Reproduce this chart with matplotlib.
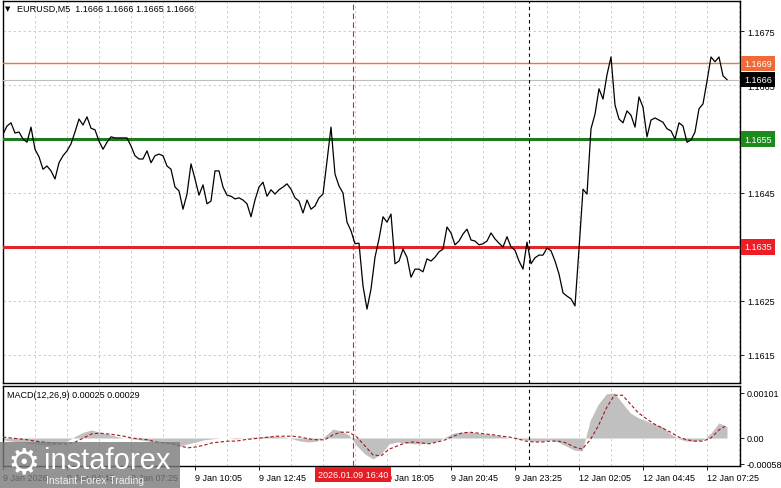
import matplotlib
matplotlib.use('Agg')
import matplotlib.pyplot as plt
from matplotlib.patches import Rectangle
import numpy as np

plt.rcParams['font.family'] = ['Liberation Sans', 'DejaVu Sans']

# --- data (EURUSD M5, close every 2 bars) ---
close = [
    1.16559, 1.16574, 1.16580, 1.16561, 1.16563, 1.16550, 1.16544, 1.16572, 1.16531, 1.16517,
    1.16494, 1.16500, 1.16491, 1.16476, 1.16506, 1.16519, 1.16528, 1.16541, 1.16563, 1.16587,
    1.16576, 1.16591, 1.16570, 1.16567, 1.16546, 1.16531, 1.16544, 1.16554, 1.16552, 1.16552,
    1.16552, 1.16552, 1.16537, 1.16519, 1.16513, 1.16513, 1.16528, 1.16506, 1.16519, 1.16522,
    1.16519, 1.16500, 1.16494, 1.16461, 1.16454, 1.16420, 1.16448, 1.16504, 1.16476, 1.16446,
    1.16465, 1.16430, 1.16435, 1.16491, 1.16491, 1.16461, 1.16446, 1.16444, 1.16439, 1.16441,
    1.16437, 1.16430, 1.16406, 1.16437, 1.16461, 1.16470, 1.16444, 1.16456, 1.16448, 1.16456,
    1.16461, 1.16467, 1.16457, 1.16441, 1.16435, 1.16413, 1.16437, 1.16420, 1.16426, 1.16441,
    1.16448, 1.16509, 1.16572, 1.16485, 1.16463, 1.16450, 1.16396, 1.16380, 1.16356, 1.16357,
    1.16278, 1.16235, 1.16272, 1.16331, 1.16365, 1.16406, 1.16396, 1.16411, 1.16319, 1.16324,
    1.16346, 1.16331, 1.16294, 1.16309, 1.16309, 1.16304, 1.16328, 1.16324, 1.16331, 1.16341,
    1.16346, 1.16387, 1.16376, 1.16354, 1.16361, 1.16374, 1.16383, 1.16363, 1.16361, 1.16354,
    1.16356, 1.16361, 1.16376, 1.16365, 1.16357, 1.16350, 1.16369, 1.16350, 1.16344, 1.16324,
    1.16309, 1.16359, 1.16319, 1.16330, 1.16335, 1.16335, 1.16348, 1.16343, 1.16324, 1.16300,
    1.16265, 1.16259, 1.16254, 1.16241, 1.16346, 1.16457, 1.16448, 1.16569, 1.16596, 1.16643,
    1.16624, 1.16669, 1.16702, 1.16613, 1.16587, 1.16580, 1.16602, 1.16594, 1.16572, 1.16628,
    1.16609, 1.16554, 1.16585, 1.16589, 1.16585, 1.16581, 1.16569, 1.16565, 1.16550, 1.16580,
    1.16574, 1.16544, 1.16548, 1.16563, 1.16606, 1.16615, 1.16657, 1.16702, 1.16693, 1.16702,
    1.16667, 1.16660,
]

# MACD(12,26,9) main (histogram) and signal, in units of 0.00001
macd_main = [
    -4, -7, -9, -11, -13, -16, -16, -13, -7, 4,
    13, 18, 13, 9, 4, 0, -2, -4, -7, -9,
    -11, -13, -18, -13, -9, -4, -2, 0, 0, -2,
    0, 2, 2, 4, 4, 2, -2, -7, -9, -7,
    4, 20, 16, 7, -18, -36, -47, -36, -13, -9,
    -11, -13, -13, -11, -7, 2, 11, 13, 13, 11,
    9, 7, 4, 0, -2, -4, -7, -7, -4, -9,
    -18, -27, -29, 40, 76, 99, 101, 78, 56, 45,
    38, 31, 25, 9, -2, -7, -7, -4, 11, 34,
    25,
]
macd_signal = [
    2, 0, -2, -4, -7, -9, -11, -13, -13, -9,
    0, 9, 11, 9, 7, 4, 0, -2, -4, -9,
    -11, -13, -18, -22, -20, -16, -11, -9, -7, -7,
    -4, -2, 0, 2, 4, 4, 4, 2, -2, -4,
    -4, 7, 13, 13, 2, -18, -38, -40, -25, -18,
    -11, -9, -11, -13, -9, -4, 4, 11, 13, 11,
    9, 7, 4, 2, -2, -7, -9, -9, -7, -7,
    -11, -20, -25, -4, 27, 67, 96, 96, 76, 56,
    43, 31, 22, 13, 2, -4, -7, -7, 0, 18,
    29,
]

n_bars = 363
time_labels = ['9 Jan 2026', '9 Jan 04:45', '9 Jan 07:25', '9 Jan 10:05', '9 Jan 12:45',
               '9 Jan 15:25', '9 Jan 18:05', '9 Jan 20:45', '9 Jan 23:25', '12 Jan 02:05',
               '12 Jan 04:45', '12 Jan 07:25']
price_ticks = [1.1675, 1.1665, 1.1655, 1.1645, 1.1635, 1.1625, 1.1615]
resistance = 1.1655
support = 1.1635
high_level = 1.1669
bid = 1.1666
marked_bar = 175          # 2026.01.09 16:40
marked_label = '2026.01.09 16:40'
week_sep_bar = 263        # Monday 00:00

GRID = dict(color='#c6c6c6', linestyle=(0, (3, 3)), linewidth=0.6)
FS = 6.5

fig = plt.figure(figsize=(7.81, 4.89), dpi=100)
L, W = 3 / 781, 737 / 781
ax = fig.add_axes([L, 1 - 384 / 489, W, 382 / 489])
ax2 = fig.add_axes([L, 1 - 467 / 489, W, 80 / 489])

# --- price panel ---
x = np.linspace(0, n_bars - 1, len(close))
ax.plot(x, close, color='black', linewidth=0.9, zorder=5)
ax.set_xlim(0, 368.5)
ax.set_ylim(1.160981, 1.168056)

ax.set_xticks(np.arange(16, 369, 16))
ax.tick_params(axis='x', length=0, labelbottom=False)
ax.yaxis.tick_right()
ax.set_yticks(price_ticks)
# labels under the coloured level tags are hidden, as in the terminal
hidden = (resistance, support)
ax.set_yticklabels(['' if p in hidden else f'{p:.4f}' for p in price_ticks])
ax.tick_params(axis='y', length=3, width=0.6, labelsize=FS, pad=2)
ax.grid(True, **GRID)
ax.set_axisbelow(True)

ax.axhline(high_level, color='#ef7446', linewidth=1.0, zorder=3)
ax.axhline(bid, color='#bdbdbd', linewidth=0.8, zorder=3)
ax.axhline(resistance, color='#1f7a1f', linewidth=2.2, zorder=3)
ax.axhline(support, color='#e0262a', linewidth=2.2, zorder=3)


def price_tag(y, text, fc):
    ax.annotate(text, xy=(1, y), xycoords=('axes fraction', 'data'),
                xytext=(3, 0), textcoords='offset points', ha='left', va='center',
                fontsize=FS, color='white', annotation_clip=False, zorder=10,
                bbox=dict(boxstyle='square,pad=0.35', fc=fc, ec='none'))


price_tag(high_level, '1.1669', '#f06a38')
price_tag(bid, '1.1666', 'black')
price_tag(resistance, '1.1655', '#1c8a1c')
price_tag(support, '1.1635', '#ee1c24')

# --- MACD panel ---
xm = np.linspace(0, n_bars - 1, len(macd_main))
hist = np.array(macd_main) * 1e-5
sig = np.array(macd_signal) * 1e-5
ax2.fill_between(xm, 0, hist, color='#c0c0c0', linewidth=0, zorder=2)
ax2.plot(xm, sig, color='#a01818', linestyle=(0, (3, 2)), linewidth=0.8, zorder=4)
ax2.set_xlim(0, 368.5)
ax2.set_ylim(-0.000628, 0.001166)
ax2.yaxis.tick_right()
ax2.set_yticks([0.00101, 0.0, -0.00058])
ax2.set_yticklabels(['0.00101', '0.00', '-0.00058'])
ax2.tick_params(axis='y', length=3, width=0.6, labelsize=FS, pad=2)

ax2.set_xticks(np.arange(0, n_bars, 32))
ax2.set_xticklabels(time_labels)
ax2.set_xticks(np.arange(16, 369, 16), minor=True)
ax2.tick_params(axis='x', which='major', length=3, width=0.6, labelsize=FS, pad=2)
ax2.tick_params(axis='x', which='minor', length=0)
for pos, lab in zip(np.arange(0, n_bars, 32), ax2.get_xticklabels()):
    lab.set_horizontalalignment('left')
    # the label sitting under the marked-time box is not visible
    if 0 <= marked_bar - pos < 32:
        lab.set_visible(False)
ax2.grid(True, axis='x', which='both', **GRID)
ax2.set_axisbelow(True)

ax2.annotate(marked_label, xy=(marked_bar, 0), xycoords=('data', 'axes fraction'),
             xytext=(0, -3), textcoords='offset points', ha='center', va='top',
             fontsize=FS, color='white', annotation_clip=False, zorder=10,
             bbox=dict(boxstyle='square,pad=0.3', fc='#e31e24', ec='none'))

for a in (ax, ax2):
    a.axvline(marked_bar, color='#e02020', linestyle=(0, (5, 3)), linewidth=0.8, zorder=4)
    a.axvline(week_sep_bar, color='black', linestyle=(0, (3, 3)), linewidth=0.8, zorder=4)
    for spine in a.spines.values():
        spine.set_color('black')
        spine.set_linewidth(1.0)

# header texts
fig.text(5 / 781, 1 - 9 / 489, '\u25bc', family='DejaVu Sans', fontsize=5, va='center')
fig.text(17 / 781, 1 - 9 / 489, 'EURUSD,M5  1.1666 1.1666 1.1665 1.1666', fontsize=FS, va='center')
fig.text(7 / 781, 1 - 396 / 489, 'MACD(12,26,9) 0.00025 0.00029', fontsize=FS, va='center')

# watermark
fig.add_artist(Rectangle((0, 0), 180 / 781, 46 / 489, transform=fig.transFigure,
                         fc='#7a7a7a', ec='none', alpha=0.8, zorder=20))
fig.text(24 / 781, 1 - 463 / 489, '\u2699', family='DejaVu Sans', fontsize=26,
         color='white', ha='center', va='center', zorder=21)
fig.text(44 / 781, 1 - 461 / 489, 'instaforex', fontsize=21, color='white',
         va='center', zorder=21)
fig.text(46 / 781, 1 - 481 / 489, 'Instant Forex Trading', fontsize=7.5,
         color='#eeeeee', va='center', zorder=21)

fig.savefig('out.png', dpi=100, facecolor='white')
